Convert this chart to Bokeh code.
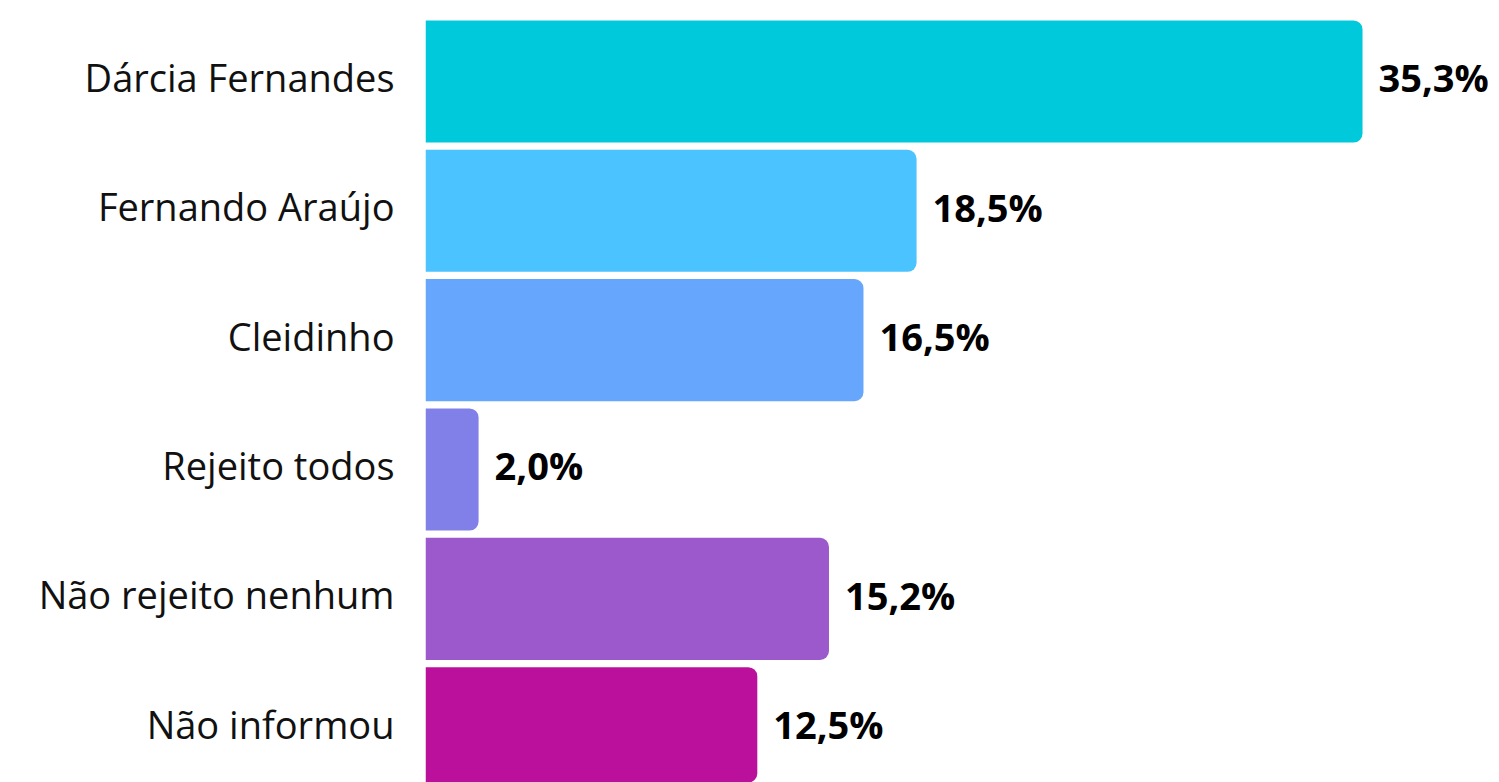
from bokeh.plotting import figure
from bokeh.models import Range1d, FixedTicker, ColumnDataSource
from bokeh.core.properties import value
from bokeh.embed import file_html
from bokeh.resources import INLINE

categories = ["Dárcia Fernandes", "Fernando Araújo", "Cleidinho", "Rejeito todos",
              "Não rejeito nenhum", "Não informou"]
values = [35.3, 18.5, 16.5, 2.0, 15.2, 12.5]
labels = ["35,3%", "18,5%", "16,5%", "2,0%", "15,2%", "12,5%"]
colors = ["#00C9DB", "#4AC3FF", "#66A6FC", "#8080E8", "#9B59CB", "#BA109C"]

n = len(categories)
ypos = [n - 1 - i for i in range(n)]

src = ColumnDataSource(dict(y=ypos, v=values, lab=labels, c=colors))

p = figure(width=1499, height=782, output_backend="svg", toolbar_location=None,
           x_range=Range1d(0, 40.46), y_range=Range1d(-0.42, n - 1 + 0.626),
           min_border_left=425, min_border_right=0, min_border_top=0, min_border_bottom=0)

p.hbar(y="y", right="v", left=0, height=0.944, fill_color="c", line_color=None,
       border_radius=(0, 9, 9, 0), source=src)
p.text(x="v", y="y", text="lab", x_offset=16, y_offset=-4, text_baseline="middle", text_align="left",
       text_font=value("Open Sans"), text_font_style="bold", text_font_size="38px",
       text_color="#000000", source=src)

# tick positions nudged slightly upward so the label text sits like the reference
ticks = [round(y + 0.035, 3) for y in ypos]
p.xaxis.visible = False
p.grid.visible = False
p.outline_line_color = None
p.yaxis.ticker = FixedTicker(ticks=ticks)
p.yaxis.major_label_overrides = {t: c for t, c in zip(ticks, categories)}
p.yaxis.axis_line_color = None
p.yaxis.major_tick_line_color = None
p.yaxis.minor_tick_line_color = None
p.yaxis.major_label_standoff = 25
p.yaxis.major_label_text_font = "Open Sans"
p.yaxis.major_label_text_font_size = "38px"
p.yaxis.major_label_text_color = "#111111"

open("out.html", "w").write(file_html(p, INLINE))
